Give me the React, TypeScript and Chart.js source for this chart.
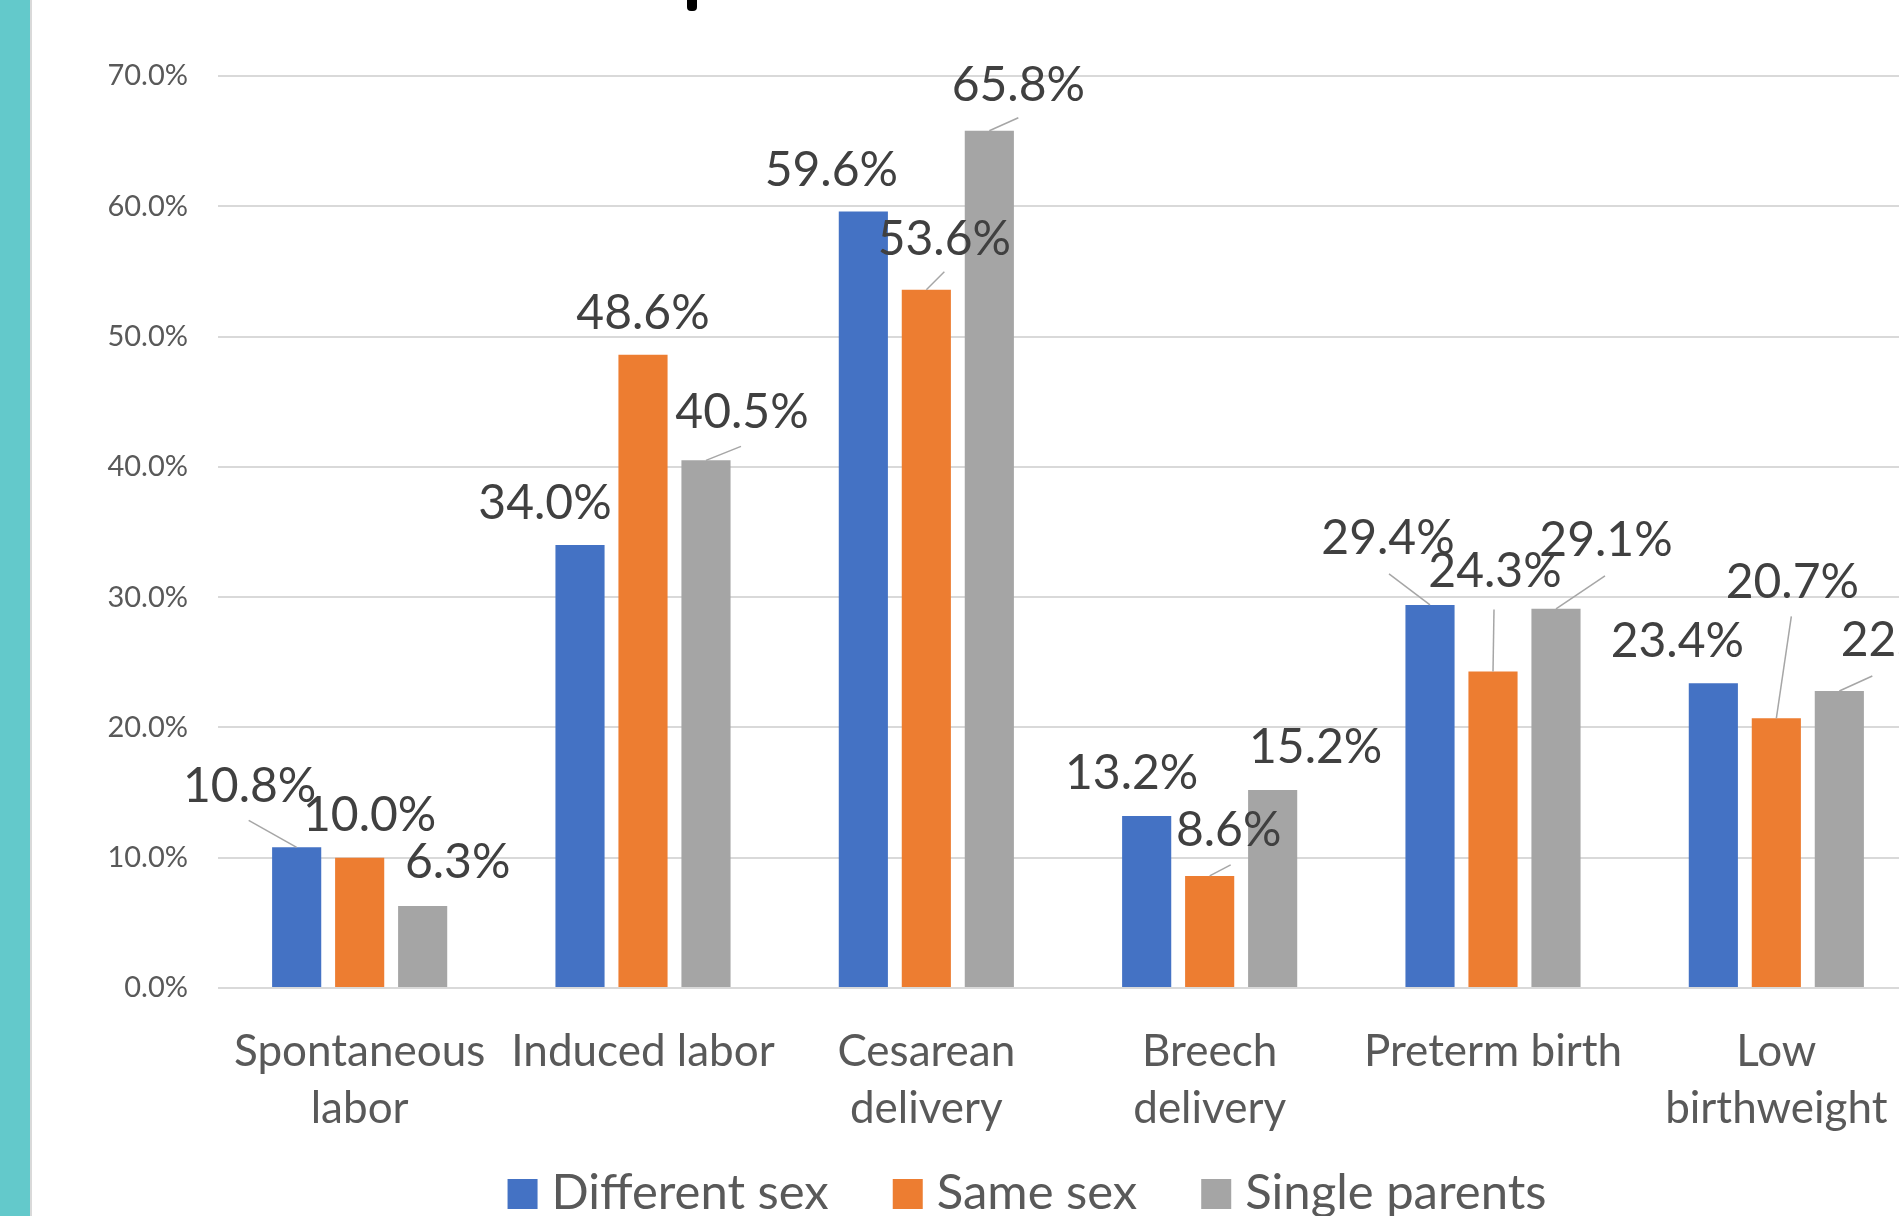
import React, { useEffect, useRef } from "react";
import { Chart, registerables } from "chart.js";

Chart.register(...registerables);

// ---- data ----
const categories: string[][] = [
  ["Spontaneous", "labor"],
  ["Induced labor"],
  ["Cesarean", "delivery"],
  ["Breech", "delivery"],
  ["Preterm birth"],
  ["Low", "birthweight"],
];
const seriesNames = ["Different sex", "Same sex", "Single parents"];
const differentSex = [10.8, 34.0, 59.6, 13.2, 29.4, 23.4];
const sameSex = [10.0, 48.6, 53.6, 8.6, 24.3, 20.7];
const singleParents = [6.3, 40.5, 65.8, 15.2, 29.1, 22.8];
const yMin = 0;
const yMax = 70;
const yStep = 10;

// ---- styles ----
const seriesColors = ["#4472C4", "#ED7D31", "#A5A5A5"];
const FONT = "Lato, 'Open Sans', sans-serif";

// label offsets relative to bar top centre: [dx, dy, leaderStartDx?, leaderStartDy?]
const labelOffsets: number[][][] = [
  [[-47, -61, -48, -27], [-35, -42], [-32, -41], [-15, -43], [-42, -66, -41, -31], [-36, -42]],
  [[10, -42], [0, -41], [18, -50, 18, -18], [19, -45, 21, -11], [2, -100, 1, -62], [16, -136, 15, -102]],
  [[35, -43], [36, -48, 35, -14], [29, -45, 29, -13], [43, -42], [50, -68, 49, -33], [68, -50, 33, -15]],
];

const dataLabelPlugin = {
  id: "dataLabels",
  afterDatasetsDraw(chart: any) {
    const ctx = chart.ctx;
    ctx.save();
    chart.data.datasets.forEach((ds: any, i: number) => {
      const meta = chart.getDatasetMeta(i);
      meta.data.forEach((bar: any, j: number) => {
        const off = labelOffsets[i][j];
        const [dx, dy] = off;
        if (off.length > 2) {
          ctx.strokeStyle = "#A6A6A6";
          ctx.lineWidth = 1.5;
          ctx.beginPath();
          ctx.moveTo(bar.x + off[2], bar.y + off[3]);
          ctx.lineTo(bar.x, bar.y);
          ctx.stroke();
        }
        ctx.fillStyle = "#404040";
        ctx.font = `48px ${FONT}`;
        ctx.textAlign = "center";
        ctx.textBaseline = "middle";
        ctx.fillText(`${Number(ds.data[j]).toFixed(1)}%`, bar.x + dx, bar.y + dy);
      });
    });
    ctx.restore();
  },
};

const legendPlugin = {
  id: "customLegend",
  afterDraw(chart: any) {
    const ctx = chart.ctx;
    ctx.save();
    ctx.font = `49px ${FONT}`;
    const box = 30;
    const gapBox = 14;
    const gapItem = 64;
    const widths = chart.data.datasets.map((d: any) => ctx.measureText(d.label).width);
    const total =
      widths.reduce((a: number, w: number) => a + box + gapBox + w, 0) + gapItem * (widths.length - 1);
    let x = chart.width / 2 - total / 2;
    const boxTop = chart.height - 37;
    chart.data.datasets.forEach((d: any, i: number) => {
      ctx.fillStyle = d.backgroundColor;
      ctx.fillRect(x, boxTop, box, box);
      x += box + gapBox;
      ctx.fillStyle = "#595959";
      ctx.textAlign = "left";
      ctx.textBaseline = "alphabetic";
      ctx.fillText(d.label, x, boxTop + box);
      x += widths[i] + gapItem;
    });
    ctx.restore();
  },
};

export default function App() {
  const canvasRef = useRef<HTMLCanvasElement | null>(null);

  useEffect(() => {
    const canvas = canvasRef.current;
    if (!canvas) return;
    const chart = new Chart(canvas, {
      type: "bar",
      data: {
        labels: categories,
        datasets: [
          { label: seriesNames[0], data: differentSex, backgroundColor: seriesColors[0] },
          { label: seriesNames[1], data: sameSex, backgroundColor: seriesColors[1] },
          { label: seriesNames[2], data: singleParents, backgroundColor: seriesColors[2] },
        ],
      },
      options: {
        responsive: false,
        animation: false,
        devicePixelRatio: 1,
        layout: { padding: { left: 0, top: 76, right: 136, bottom: 0 } },
        datasets: {
          bar: { categoryPercentage: 0.667, barPercentage: 0.78 },
        },
        plugins: {
          legend: { display: false },
          tooltip: { enabled: false },
          title: { display: false },
        },
        scales: {
          x: {
            grid: { display: false, drawTicks: false },
            border: { display: false },
            ticks: {
              color: "#595959",
              font: { family: FONT, size: 44, lineHeight: 1.3 },
              padding: 35,
              maxRotation: 0,
              minRotation: 0,
              autoSkip: false,
            },
            afterFit(scale: any) {
              scale.height = 228;
            },
          },
          y: {
            min: yMin,
            max: yMax,
            grid: { color: "#D9D9D9", lineWidth: 2, drawTicks: false },
            border: { display: false },
            ticks: {
              stepSize: yStep,
              color: "#595959",
              font: { family: FONT, size: 29 },
              padding: 30,
              callback: (v: any) => `${Number(v).toFixed(1)}%`,
            },
            afterFit(scale: any) {
              scale.width = 218;
            },
          },
        },
      },
      plugins: [dataLabelPlugin, legendPlugin],
    } as any);
    return () => chart.destroy();
  }, []);

  return (
    <div
      style={{
        position: "fixed",
        left: 0,
        top: 0,
        width: 1899,
        height: 1216,
        overflow: "hidden",
        background: "#ffffff",
      }}
    >
      <canvas
        ref={canvasRef}
        width={2054}
        height={1216}
        style={{ position: "absolute", left: 0, top: 0, width: 2054, height: 1216 }}
      />
      <div style={{ position: "absolute", left: 0, top: 0, width: 30, height: 1216, background: "#63C9CB" }} />
      <div style={{ position: "absolute", left: 30, top: 0, width: 2, height: 1216, background: "#D9D9D9" }} />
      <div
        style={{
          position: "absolute",
          left: 687,
          top: 0,
          width: 10,
          height: 11,
          background: "#000000",
          borderRadius: "0 0 4px 4px",
        }}
      />
    </div>
  );
}
